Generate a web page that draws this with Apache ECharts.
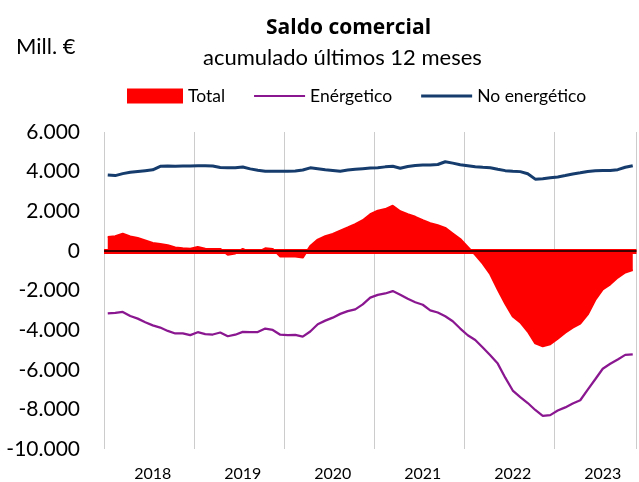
<!DOCTYPE html>
<html><head><meta charset="utf-8">
<script src="https://cdn.jsdelivr.net/npm/echarts@6/dist/echarts.min.js"></script>
<style>html,body{margin:0;padding:0;background:#fff}#c{width:639px;height:482px}</style>
</head><body><div id="c"></div>
<script>
const categories = [
  'jul-17','ago-17','sep-17','oct-17','nov-17','dic-17',
  'ene-18','feb-18','mar-18','abr-18','may-18','jun-18','jul-18','ago-18','sep-18','oct-18','nov-18','dic-18',
  'ene-19','feb-19','mar-19','abr-19','may-19','jun-19','jul-19','ago-19','sep-19','oct-19','nov-19','dic-19',
  'ene-20','feb-20','mar-20','abr-20','may-20','jun-20','jul-20','ago-20','sep-20','oct-20','nov-20','dic-20',
  'ene-21','feb-21','mar-21','abr-21','may-21','jun-21','jul-21','ago-21','sep-21','oct-21','nov-21','dic-21',
  'ene-22','feb-22','mar-22','abr-22','may-22','jun-22','jul-22','ago-22','sep-22','oct-22','nov-22','dic-22',
  'ene-23','feb-23','mar-23','abr-23','may-23'
];
const total = [
  700, 740, 870, 730, 650, 530, 400, 350, 290, 170, 130, 110,
  200, 110, 100, 100, -200, -130, 100, -80, -60, 130, 100, -280,
  -280, -280, -340, 250, 570, 740, 860, 1020, 1180, 1350, 1550, 1850,
  2030, 2110, 2280, 2000, 1850, 1720, 1550, 1400, 1290, 1160, 880, 600,
  200, -200, -640, -1180, -1950, -2670, -3310, -3610, -4070, -4670, -4820, -4710,
  -4430, -4130, -3880, -3670, -3210, -2480, -1950, -1690, -1350, -1090, -970
];
const energetico = [
  -3160, -3130, -3080, -3290, -3420, -3600, -3760, -3870, -4040, -4170, -4160, -4250,
  -4105, -4200, -4222, -4120, -4310, -4230, -4090, -4100, -4100, -3920, -3990, -4230,
  -4250, -4240, -4330, -4070, -3700, -3520, -3370, -3180, -3040, -2950, -2700, -2360,
  -2220, -2150, -2030, -2210, -2420, -2590, -2720, -3000, -3110, -3300, -3550, -3920,
  -4260, -4500, -4880, -5270, -5690, -6400, -7050, -7380, -7680, -8030, -8330, -8290,
  -8060, -7900, -7700, -7540, -7000, -6480, -5950, -5700, -5480, -5250, -5220
];
const noEnergetico = [
  3830, 3800, 3900, 3970, 4010, 4050, 4090, 4270, 4290, 4270, 4280, 4290,
  4295, 4300, 4280, 4210, 4190, 4200, 4235, 4140, 4070, 4020, 4020, 4020,
  4020, 4030, 4080, 4190, 4140, 4090, 4060, 4020, 4080, 4120, 4150, 4180,
  4200, 4240, 4270, 4170, 4260, 4310, 4330, 4340, 4360, 4500, 4430, 4350,
  4300, 4250, 4220, 4200, 4120, 4050, 4020, 4000, 3890, 3620, 3640, 3690,
  3730, 3800, 3880, 3940, 4004, 4040, 4054, 4054, 4100, 4220, 4300
];
const seriesNames = ['Total', 'Enérgetico', 'No energético'];
const FONT = 'Lato';

// legend line icons: bounding box 56x15 (tiny invisible corner marks), visible line inside
const thinLineIcon = 'path://M0,0L0,0.01L0.01,0Z M5,6.5L56,6.5L56,8.5L5,8.5Z M56,15L56,14.99L55.99,15Z';
const thickLineIcon = 'path://M0,0L0,0.01L0.01,0Z M5,6L56,6L56,9L5,9Z M56,15L56,14.99L55.99,15Z';

const chart = echarts.init(document.getElementById('c'), null, {renderer: 'canvas'});
chart.setOption({
  animation: false,
  backgroundColor: '#ffffff',
  textStyle: {fontFamily: FONT, color: '#000'},
  title: [
    {text: 'Saldo comercial', left: 266, top: 18, padding: 0,
     textStyle: {fontFamily: 'Open Sans', fontSize: 21, fontWeight: 'bold', color: '#000'}},
    {text: 'acumulado últimos 12 meses', left: 203, top: 47, padding: 0,
     textStyle: {fontFamily: FONT, fontSize: 22, fontWeight: 'normal', color: '#000'}},
    {text: 'Mill. €', left: 16, top: 36, padding: 0,
     textStyle: {fontFamily: FONT, fontSize: 22, fontWeight: 'normal', color: '#000'}}
  ],
  legend: {
    left: 127, top: 87, padding: 0,
    itemWidth: 56, itemHeight: 15, itemGap: 24,
    itemStyle: {borderWidth: 0},
    textStyle: {fontFamily: FONT, fontSize: 17.5, color: '#000'},
    data: [
      {name: seriesNames[0], icon: 'rect'},
      {name: seriesNames[1], icon: thinLineIcon},
      {name: seriesNames[2], icon: thickLineIcon}
    ]
  },
  grid: {left: 104, right: 2.5, top: 132, bottom: 33, containLabel: false},
  xAxis: {
    type: 'category',
    boundaryGap: true,
    data: categories,
    axisLine: {show: false},
    axisTick: {show: false},
    axisLabel: {
      interval: (i, v) => v.startsWith('ene-'),
      formatter: v => v.startsWith('ene-') ? '20' + v.slice(4) : '',
      fontFamily: FONT, fontSize: 16, color: '#000', margin: 17
    },
    splitLine: {
      show: true,
      interval: (i, v) => v.startsWith('jul-'),
      lineStyle: {color: '#cccccc', width: 1}
    }
  },
  yAxis: {
    type: 'value',
    min: -10000, max: 6000, interval: 2000,
    axisLine: {show: false},
    axisTick: {show: false},
    splitLine: {show: false},
    axisLabel: {
      formatter: v => {
        const s = Math.abs(v).toString().replace(/\B(?=(\d{3})+(?!\d))/g, '.');
        return (v < 0 ? '-' : '') + s;
      },
      fontFamily: FONT, fontSize: 21, color: '#000', margin: 24
    }
  },
  series: [
    {
      name: seriesNames[0], type: 'line', data: total,
      symbol: 'none', color: '#ff0000',
      lineStyle: {color: '#ff0000', width: 2},
      areaStyle: {color: '#ff0000', opacity: 1},
      z: 1,
      markLine: {
        silent: true, symbol: 'none', label: {show: false},
        data: [
          {yAxis: 0, lineStyle: {color: '#ff0000', width: 5, type: 'solid'}},
          {yAxis: 0, lineStyle: {color: '#000000', width: 1.5, type: 'solid'}}
        ]
      }
    },
    {
      name: seriesNames[1], type: 'line', data: energetico,
      symbol: 'none', color: '#8a1790',
      lineStyle: {color: '#8a1790', width: 2.25},
      z: 3
    },
    {
      name: seriesNames[2], type: 'line', data: noEnergetico,
      symbol: 'none', color: '#153c6c',
      lineStyle: {color: '#153c6c', width: 3},
      z: 3
    }
  ]
});
</script></body></html>
